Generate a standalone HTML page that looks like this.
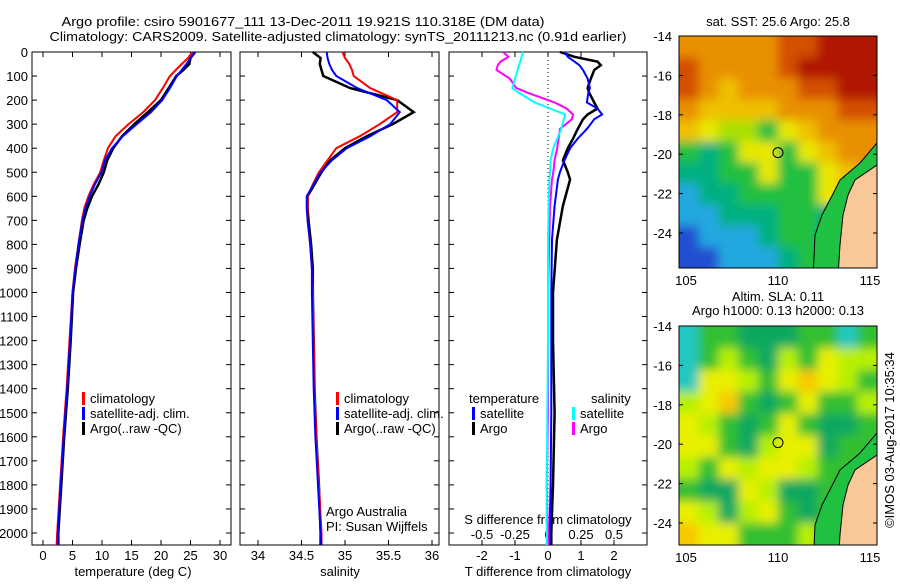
<!DOCTYPE html>
<html><head><meta charset="utf-8"><style>
body{margin:0;background:#fff;}
svg text{font-family:"Liberation Sans",sans-serif;font-size:13px;fill:#000;}
</style></head><body>
<svg id="fig" width="900" height="580" viewBox="0 0 900 580" xmlns="http://www.w3.org/2000/svg">
<defs><filter id="bl" filterUnits="userSpaceOnUse" x="660" y="20" width="240" height="550"><feGaussianBlur stdDeviation="5"/></filter>
<clipPath id="c1"><rect x="679" y="36" width="198" height="232"/></clipPath>
<clipPath id="c2"><rect x="679" y="326" width="198" height="219"/></clipPath></defs>
<text x="303" y="26" text-anchor="middle" font-size="14.5" textLength="483" lengthAdjust="spacingAndGlyphs">Argo profile: csiro 5901677_111 13-Dec-2011 19.921S 110.318E (DM data)</text>
<text x="338" y="41" text-anchor="middle" font-size="14.5" textLength="577" lengthAdjust="spacingAndGlyphs">Climatology: CARS2009. Satellite-adjusted climatology: synTS_20111213.nc (0.91d earlier)</text>
<g id="g"></g>
</svg>
<script>
const depths=[0,25,50,75,100,150,200,250,300,350,400,450,500,550,600,650,700,800,900,1000,1200,1400,1600,1800,2000,2050];
const tClim=[25.3,24.6,23.5,22.5,21.5,20.3,19,17,14.5,12.3,11,10.3,9.7,8.6,7.7,7,6.6,6,5.4,5,4.5,4,3.4,2.9,2.4,2.3];
const tSat=[25.8,25,24.3,23.5,22.7,21.5,20.2,18.3,15.9,13.5,11.7,10.5,9.9,8.8,7.9,7.2,6.7,6,5.5,5,4.6,4.1,3.5,3,2.5,2.5];
const tArgo=[25.8,25,24.8,23.8,22.6,21.3,20,17.8,15.5,13.4,11.9,10.9,10.3,9.4,8.3,7.5,6.9,6.2,5.6,5.1,4.7,4.2,3.6,3.1,2.6,2.6];
const sClim=[34.97,35.0,35.05,35.08,35.1,35.29,35.6,35.6,35.4,35.17,34.9,34.8,34.7,34.63,34.57,34.57,34.57,34.6,34.62,34.63,34.64,34.65,34.67,34.7,34.73,34.73];
const sSat=[34.79,34.8,34.82,34.85,34.9,35.14,35.48,35.63,35.52,35.29,35.02,34.85,34.72,34.64,34.56,34.56,34.57,34.6,34.62,34.62,34.63,34.64,34.66,34.69,34.72,34.73];
const sArgo=[34.63,34.72,34.71,34.73,34.75,35.06,35.6,35.79,35.55,35.25,35.0,34.83,34.73,34.65,34.57,34.57,34.58,34.61,34.63,34.63,34.64,34.65,34.67,34.7,34.72,34.72];
const dDepth=[0,20,40,55,75,110,150,170,210,235,260,280,320,360,400,450,500,530,640,780,1000,1200,1500,1800,2000,2050];
const dTSat=[0.5,0.6,0.8,0.95,1.06,1.2,1.27,1.22,1.18,1.5,1.64,1.4,1.18,0.9,0.67,0.5,0.36,0.3,0.2,0.12,0.1,0.1,0.1,0.08,0.05,0.05];
const dTArgo=[0.36,0.8,1.5,1.6,1.4,1.3,1.2,1.25,1.4,1.5,1.2,1.06,0.9,0.76,0.6,0.45,0.6,0.67,0.45,0.27,0.15,0.15,0.2,0.15,0.1,0.1];
const dSArgo=[-0.34,-0.3,-0.36,-0.38,-0.39,-0.29,-0.24,-0.15,0.05,0.14,0.19,0.18,0.09,0.08,0.07,0.05,0.04,0.03,0.015,0.01,0,0,0,-0.01,0,0];
const dSSat=[-0.19,-0.2,-0.21,-0.22,-0.23,-0.25,-0.27,-0.22,-0.1,0.015,0.13,0.12,0.1,0.07,0.04,0.02,0.015,0.01,0.005,0,0,0,-0.005,-0.01,-0.01,-0.01];
const tTicks=[0,5,10,15,20,25,30];
const sTicks=[34,34.5,35,35.5,36];
const dtTicks=[-2,-1,0,1,2];
const dsTicks=[-0.5,-0.25,0,0.25,0.5];
const sstRows=["OOOOOrrRRR","rOOOOrRRRR","rOYOOOrrRR","OYYYYOOOrr","YyggGyYOOO","GTGyyGyYOO","TTGGyGGyYO","CTTGGGGyYO","CCTTTGGTGO","BCCCTGGTGG","BBCCCTGGTG"];
const slaRows=["CGGDDDGGCG","CGgGDgGygg","CyygGyOygG","gyOGDGyGGg","ygGDGyGDDG","yyGDgyyDGG","gGygyygGGG","GDDygDDGGG","ygDgyGDGGG","OyyGGGgGGG"];
const NS="http://www.w3.org/2000/svg",G=document.getElementById('g');
function mk(t,a,p){const e=document.createElementNS(NS,t);for(const k in a)e.setAttribute(k,a[k]);(p||G).appendChild(e);return e;}
function txt(x,y,s,anc,p){const e=mk('text',{x:x,y:y,'text-anchor':anc||'start'},p);e.textContent=s;return e;}
const Y0=52,PY=0.2405,YB=545;
const yD=d=>Y0+d*PY;
const panels=[{x0:32,x1:231},{x0:240,x1:439},{x0:449,x1:647}];
const xT=v=>43+v*5.9, xS=v=>258+(v-34)*87, xDT=v=>548+v*33, xDS=v=>548+v*132;
panels.forEach((p,i)=>{
 const r=mk('rect',{x:p.x0,y:Y0,width:p.x1-p.x0,height:YB-Y0,fill:'#fff',stroke:'#000','stroke-width':1});
 
 
 for(let d=0;d<=2000;d+=100){mk('line',{x1:p.x0,x2:p.x0+5,y1:yD(d),y2:yD(d),stroke:'#000'});mk('line',{x1:p.x1,x2:p.x1-5,y1:yD(d),y2:yD(d),stroke:'#000'});}
});
for(let d=0;d<=2000;d+=100){const t=txt(28,yD(d)+5,String(d),'end');
 
 }
function xt(ticks,f,y){ticks.forEach(v=>{const x=f(v);mk('line',{x1:x,x2:x,y1:Y0,y2:Y0+5,stroke:'#000'});mk('line',{x1:x,x2:x,y1:YB,y2:YB-5,stroke:'#000'});const t=txt(x,y,String(v),'middle');
 
 });}
xt(tTicks,xT,560);xt(sTicks,xS,560);xt(dtTicks,xDT,560);
dsTicks.forEach(v=>{const t=txt(xDS(v),539,String(v),'middle');
 
 });
[["temperature (deg C)",133],["salinity",340],["T difference from climatology",548]].forEach(a=>{const t=txt(a[1],576,a[0],'middle');
 
 });
const s0=txt(548,524,"S difference from climatology",'middle');


mk('line',{x1:548,x2:548,y1:Y0,y2:YB,stroke:'#000','stroke-dasharray':'1,3'});
function line(xs,ds,f,col,name,w){const pts=xs.map((v,i)=>f(v).toFixed(1)+','+yD(ds[i]).toFixed(1)).join(' ');
 const l=mk('polyline',{points:pts,fill:'none',stroke:col,'stroke-width':w||2});
 
 }
line(tArgo,depths,xT,'#000','temp-argo-line',2.5);line(tClim,depths,xT,'#f00','temp-clim-line');line(tSat,depths,xT,'#00f','temp-sat-line');
line(sArgo,depths,xS,'#000','sal-argo-line',2.5);line(sClim,depths,xS,'#f00','sal-clim-line');line(sSat,depths,xS,'#00f','sal-sat-line');
line(dTArgo,dDepth,xDT,'#000','tdiff-argo-line',2.5);line(dTSat,dDepth,xDT,'#00f','tdiff-sat-line');
line(dSArgo,dDepth,xDS,'#f0f','sdiff-argo-line');line(dSSat,dDepth,xDS,'#0ff','sdiff-sat-line');
function leg(x,y,col,s){mk('rect',{x:x,y:y-11,width:3,height:13,fill:col});const t=txt(x+8,y,s);
 
 }
[[82,'#f00','climatology'],[82,'#00f','satellite-adj. clim.'],[82,'#000','Argo(..raw -QC)']].forEach((a,i)=>leg(a[0],403+i*15,a[1],a[2]));
[[336,'#f00','climatology'],[336,'#00f','satellite-adj. clim.'],[336,'#000','Argo(..raw -QC)']].forEach((a,i)=>leg(a[0],403+i*15,a[1],a[2]));
txt(469,403,'temperature');txt(591,403,'salinity');
leg(472,418,'#00f','satellite');leg(472,433,'#000','Argo');leg(572,418,'#0ff','satellite');leg(572,433,'#f0f','Argo');
txt(326,516,'Argo Australia');txt(326,531,'PI: Susan Wijffels');
// maps
const sstC={R:'#b01800',r:'#d45000',O:'#e89000',Y:'#f0c000',y:'#e8e800',g:'#a8e000',G:'#20c040',T:'#00b080',C:'#20a8e0',B:'#2050d0'};
const slaC={D:'#10a860',G:'#30c030',g:'#b8f000',y:'#e8f000',O:'#f8c800',C:'#20c8c0'};
const lx=l=>686+(l-105)*18.4;
const coast=[[877,107],[860,127],[840,144],[835,154],[822,179],[815,199],[814,222],[813,240]];
const landP=[[877,129],[855,144],[848,159],[843,179],[840,209],[838,240],[877,240]];
function map(rows,cols,top,h,clip,name){const g=mk('g',{'clip-path':'url(#'+clip+')'});
 
 
 const bg=mk('g',{filter:'url(#bl)'},g);const nr=rows.length,nc=rows[0].length,cw=198/nc,ch=h/nr;
 rows.forEach((r,i)=>[...r].forEach((c,j)=>{let x=679+j*cw,y=top+i*ch,w=cw+1,hh=ch+1;
  if(j==0){x-=15;w+=15;} if(j==nc-1)w+=15; if(i==0){y-=15;hh+=15;} if(i==nr-1)hh+=15;
  mk('rect',{x:x,y:y,width:w,height:hh,fill:cols[c]},bg);}));
 const ly=la=>top+(-14-la)*19.7;
 mk('polygon',{points:coast.concat([[877,240]]).map(p=>p[0]+','+(top+p[1])).join(' '),fill:'#20c040'},g);
 mk('polyline',{points:coast.map(p=>p[0]+','+(top+p[1])).join(' '),fill:'none',stroke:'#000','stroke-width':1},g);
 mk('polygon',{points:landP.map(p=>p[0]+','+(top+p[1])).join(' '),fill:'#f8c898',stroke:'#000','stroke-width':1},g);
 mk('circle',{cx:778,cy:ly(-19.92),r:5,fill:'none',stroke:'#000'},g);
 mk('rect',{x:679,y:top,width:198,height:h,fill:'none',stroke:'#000'});
 for(let la=-14;la>=-24;la-=2){const y=ly(la);mk('line',{x1:679,x2:683,y1:y,y2:y,stroke:'#000'});mk('line',{x1:877,x2:873,y1:y,y2:y,stroke:'#000'});const t=txt(672,y+5,String(la),'end');
  
  }
 [105,110,115].forEach(l=>{const t=txt(lx(l),top+h+17,String(l),'middle');
  
  });}
map(sstRows,sstC,36,232,'c1','sst-map');
map(slaRows,slaC,326,219,'c2','sla-map');
txt(778,26,'sat. SST: 25.6 Argo: 25.8','middle');
txt(778,301,'Altim. SLA: 0.11','middle');txt(778,315,'Argo h1000: 0.13 h2000: 0.13','middle');
const im=txt(0,0,'©IMOS 03-Aug-2017 10:35:34','middle');im.setAttribute('transform','translate(894,440) rotate(-90)');
</script>
</body></html>
